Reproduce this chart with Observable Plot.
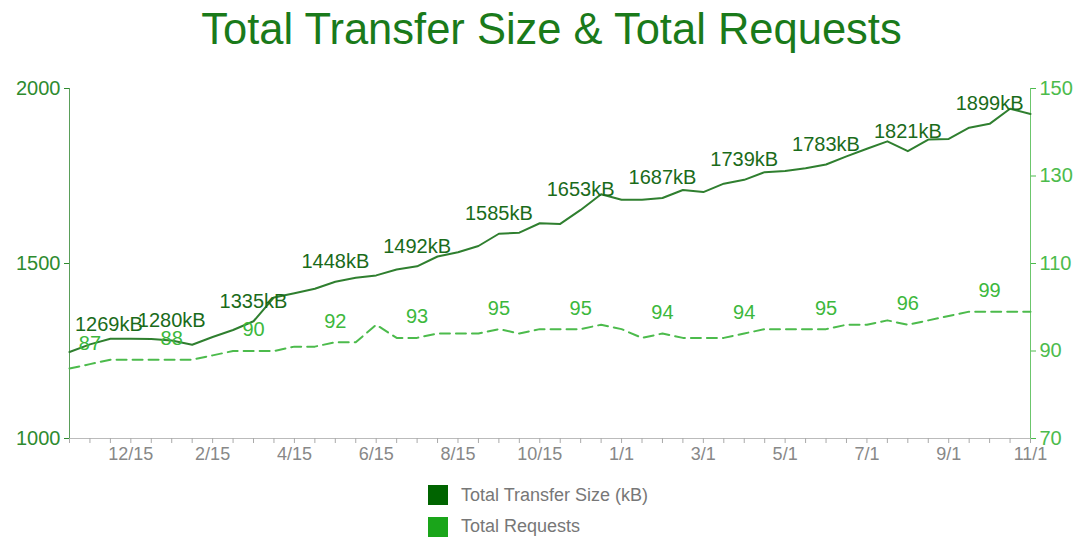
<!DOCTYPE html>
<html><head><meta charset="utf-8">
<script src="https://cdn.jsdelivr.net/npm/d3@7"></script>
<script src="https://cdn.jsdelivr.net/npm/@observablehq/plot@0.6"></script>
<style>
body{margin:0;background:#fff;font-family:"Liberation Sans",Arial,sans-serif;width:1083px;}
#title{height:62px;padding-top:8px;padding-left:20px;text-align:center;font-size:43.5px;line-height:43px;color:#1a7a1a;}
#chart{height:400px;}
#legend{padding-top:15px;padding-left:428px;}
.item{display:flex;align-items:center;height:20px;margin-bottom:11.5px;font-size:18px;color:#777;}
.sw{display:inline-block;width:20px;height:20px;margin-right:13px;}
</style></head><body>
<div id="title">Total Transfer Size &amp; Total Requests</div>
<div id="chart"></div>
<div id="legend">
  <div class="item"><span class="sw" style="background:#006400"></span>Total Transfer Size (kB)</div>
  <div class="item"><span class="sw" style="background:#1aa51a"></span>Total Requests</div>
</div>
<script>
// 48 semi-monthly runs, indexed 0..47
const transferKB = [1247,1269,1285,1285,1284,1280,1268,1290,1310,1335,1403,1415,1428,1448,1459,1466,
  1483,1492,1520,1532,1550,1585,1588,1615,1613,1653,1698,1682,1682,1687,1710,1704,
  1728,1739,1761,1764,1772,1783,1806,1828,1849,1821,1854,1856,1888,1899,1942,1927];
const requests = [86,87,88,88,88,88,88,89,90,90,90,91,91,92,92,96,
  93,93,94,94,94,95,94,95,95,95,96,95,93,94,93,93,
  93,94,95,95,95,95,96,96,97,96,97,98,99,99,99,99];
const tickLabels = ["12/15","2/15","4/15","6/15","8/15","10/15","1/1","3/1","5/1","7/1","9/1","11/1"];
const leftTicks = [1000,1500,2000];
const rightTicks = [70,90,110,130,150];

const labelMap = new Map(tickLabels.map((t,k)=>[3+4*k,t]));
const yR = d3.scaleLinear([70,150],[1000,2000]);
const rows = transferKB.map((v,i)=>({i, kb:v, req:requests[i], reqY:yR(requests[i])}));
const lab = rows.filter(d=>d.i%4===1);

const chart = Plot.plot({
  width:1083, height:400, marginTop:18, marginBottom:32, marginLeft:69, marginRight:53,
  style:{fontFamily:"Liberation Sans, Arial, sans-serif", background:"white", overflow:"visible"},
  x:{domain:[0,transferKB.length-1]},
  y:{domain:[1000,2000]},
  marks:[
    Plot.ruleY([1000],{stroke:"#bbb"}),
    Plot.axisX({ticks:d3.range(transferKB.length), tickFormat:i=>labelMap.get(i) ?? "", tickSize:5,
      stroke:"#aaa", fill:"#888", fontSize:18, label:null}),
    Plot.axisY({ticks:leftTicks, tickFormat:d=>String(d), tickSize:5, color:"#2e8b2e", fontSize:20, label:null}),
    Plot.axisY({anchor:"right", ticks:rightTicks.map(yR), tickFormat:v=>String(Math.round(yR.invert(v))),
      tickSize:5, color:"#4cbb4c", fontSize:20, label:null}),
    Plot.ruleX([0],{stroke:"#5a9e5a"}),
    Plot.ruleX([transferKB.length-1],{stroke:"#6cc66c"}),
    Plot.line(rows,{x:"i", y:"reqY", stroke:"#4cbb4c", strokeWidth:2, strokeDasharray:"10,6"}),
    Plot.line(rows,{x:"i", y:"kb", stroke:"#2f7f2f", strokeWidth:2}),
    Plot.text(lab.filter(d=>d.i>1),{x:"i", y:"kb", text:d=>d.kb+"kB", dy:-20, fill:"#1a6b1a", fontSize:20}),
    Plot.text(lab.filter(d=>d.i===1),{x:"i", y:"kb", text:d=>d.kb+"kB", dy:-20, dx:-15, textAnchor:"start", fill:"#1a6b1a", fontSize:20}),
    Plot.text(lab,{x:"i", y:"reqY", text:d=>String(d.req), dy:-21, fill:"#3cb83c", fontSize:20})
  ]
});
document.getElementById("chart").appendChild(chart);
</script>
</body></html>
